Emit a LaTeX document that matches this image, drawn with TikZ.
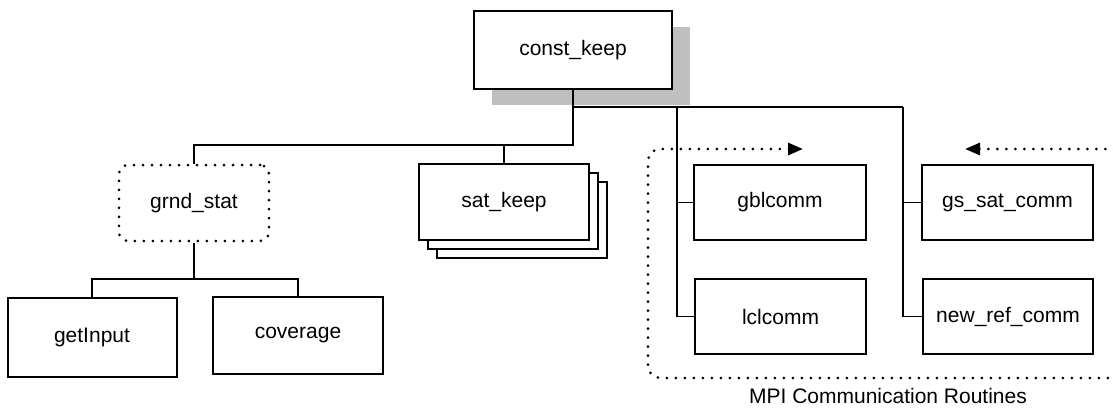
\documentclass[tikz,border=0pt]{standalone}
\usepackage{fontspec}
\setmainfont{Liberation Sans}
\usetikzlibrary{arrows.meta,shadows,calc}
\begin{document}
\begin{tikzpicture}[x=1pt,y=-1pt,
  font=\fontsize{21}{25}\selectfont,
  box/.style={draw, line width=2pt, minimum width=170pt, minimum height=76pt,
              inner sep=0pt, fill=white},
  link/.style={line width=1.2pt},
  dots/.style={line width=3pt, line cap=round, dash pattern=on 0pt off 9pt},
  >={Triangle[length=15pt,width=12pt]}
]
\useasboundingbox (0,0) rectangle (1113,407);

% modules
\node[box, minimum width=198pt, minimum height=78pt,
      general shadow={fill=black!25, shadow xshift=18pt, shadow yshift=-16pt}]
      (ck) at (573,50) {const\_keep};
\node[box, double copy shadow={shadow xshift=9pt, shadow yshift=-9pt, line width=1.7pt}]
      (sk) at (504,202) {sat\_keep};
\node[draw, dots, rounded corners=9pt, minimum width=150pt, minimum height=76pt]
      (gs) at (194,203) {grnd\_stat};
\node[box, minimum width=169pt, minimum height=79pt] (gi) at (92,337.5) {getInput};
\node[box, minimum height=77pt] (cv) at (298,335.5) {coverage};
\node[box, minimum width=172pt, minimum height=75pt] (gb) at (780,202.5) {gblcomm};
\node[box, minimum width=171pt, minimum height=75pt] (lc) at (780.5,316.5) {lclcomm};
\node[box, minimum width=171pt, minimum height=75pt] (gss) at (1007.5,202.5) {gs\_sat\_comm};
\node[box, minimum width=170pt, minimum height=75pt] (nr) at (1008,316.5) {new\_ref\_comm};

% tree junctions
\coordinate (j1) at (573,145);
\coordinate (j2) at (573,107);
\coordinate (b1) at (677,107);
\coordinate (b2) at (903,107);
\coordinate (j3) at (194,279);

% call tree
\draw[link] (ck.south) -- (j1) -| (gs.north);
\draw[link] (j1 -| sk.north) -- (sk.north);
\draw[link] (j2) -- (b2);
\draw[link] (b1) |- (lc.west);
\draw[link] (b1 |- gb.west) -- (gb.west);
\draw[link] (b2) |- (nr.west);
\draw[link] (b2 |- gss.west) -- (gss.west);
\draw[link] (gs.south) -- (j3);
\draw[link] (gi.north) |- (j3) -| (cv.north);

% MPI communication group
\coordinate (ta) at (803,149);
\coordinate (tb) at (965,149);
\draw[dots, rounded corners=12pt, <-] (ta) -| (648,378) -- (1125,378);
\draw[dots, <-] (tb) -- (1125,149);
\node (mpi) at (888,396) {MPI Communication Routines};
\end{tikzpicture}
\end{document}
